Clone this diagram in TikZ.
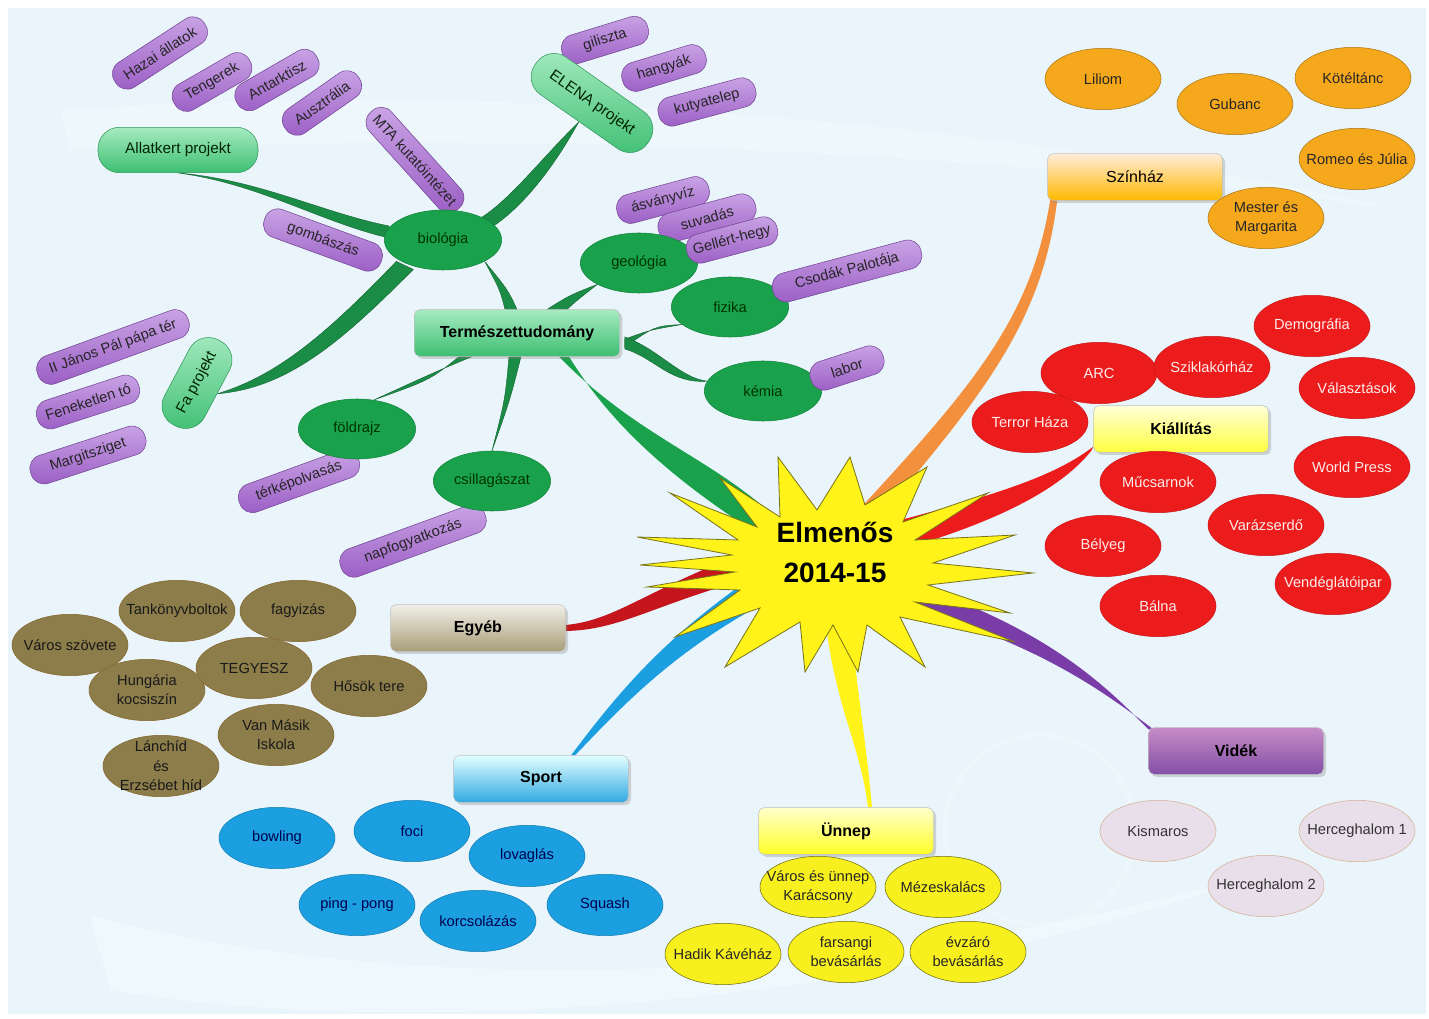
\documentclass[tikz,border=0pt]{standalone}
\usepackage{fontspec}
\setmainfont{Liberation Sans}
\usetikzlibrary{calc,shapes.geometric,shadows}

\pgfdeclarelayer{bg}
\pgfdeclarelayer{branch}
\pgfsetlayers{bg,branch,main}

\definecolor{paper}{HTML}{E9F5FB}
\definecolor{grfill}{HTML}{19A24B}
\definecolor{grdark}{HTML}{1B8C45}
\definecolor{grtop}{HTML}{A6EBC0}
\definecolor{grbot}{HTML}{3DBE72}
\definecolor{pitop}{HTML}{CBA6E6}
\definecolor{pibot}{HTML}{9A5CC4}
\definecolor{orfill}{HTML}{F6A81D}
\definecolor{orbranch}{HTML}{F2903E}
\definecolor{redfill}{HTML}{EC1C1C}
\definecolor{olfill}{HTML}{8C7D4A}
\definecolor{bluefill}{HTML}{1B9FE0}
\definecolor{yelfill}{HTML}{F8F01E}
\definecolor{lavfill}{HTML}{E9DFEA}
\definecolor{purbranch}{HTML}{7A3DA8}
\definecolor{egred}{HTML}{C4161C}

\newcommand{\zw}[1]{\makebox[0pt]{#1}}

\tikzset{every picture/.style={line width=0.75pt},
  topicbox/.style={rectangle, rounded corners=4pt, minimum width=131pt, minimum height=35pt,
    font=\fontsize{12}{14}\selectfont\bfseries, draw=black!25,
    drop shadow={opacity=0.3, shadow xshift=2pt, shadow yshift=-2pt}},
  bubble/.style={ellipse, minimum width=87pt, minimum height=46pt, inner sep=0pt,
    align=center, font=\fontsize{11}{14.5}\selectfont},
  theatre/.style={bubble, fill=orfill, draw=orfill!70!black, text=black!85},
  expo/.style={bubble, fill=redfill, draw=redfill!85!black, text=red!8},
  misc/.style={bubble, fill=olfill, draw=olfill!75!orange!80!black, text=black!90},
  sportbub/.style={bubble, fill=bluefill, draw=bluefill!80!black, text=blue!30!black},
  feast/.style={bubble, fill=yelfill, draw=yelfill!45!black, text=black!85},
  country/.style={bubble, fill=lavfill, draw=lavfill!50!brown, text=black!80},
  science/.style={bubble, minimum width=88pt, minimum height=45pt, fill=grfill, draw=grfill!80!black, text=green!20!black},
  pill/.style={rectangle, rounded corners=10pt, minimum height=22pt, inner xsep=5pt,
    top color=pitop, bottom color=pibot, draw=pibot!75!black, text=black!85,
    font=\fontsize{11}{13}\selectfont},
  greenpill/.style={rectangle, rounded corners=16pt, minimum height=34pt, inner xsep=6pt,
    top color=grtop, bottom color=grbot, draw=grbot!80!black, text=green!15!black,
    font=\fontsize{11.5}{13}\selectfont},
  natbranch/.style={fill=grfill},
  subbranch/.style={fill=grdark, draw=grdark!70!black, line width=0.3pt}
}

\begin{document}
\begin{tikzpicture}[x=0.75pt,y=0.75pt,yscale=-1,xscale=1]
\useasboundingbox (0,0) rectangle (1429,1019);

\begin{pgfonlayer}{bg}
\fill[white] (0,0) rectangle (1429,1019);
\fill[paper] (8,8) rectangle (1426,1014);
%faint swirls
\fill[white, opacity=0.3] (90,915) .. controls (400,1000) and (900,990) .. (1300,860) .. controls (900,1010) and (400,1040) .. (110,990) -- cycle ;
\fill[white, opacity=0.25] (60,110) .. controls (500,80) and (1000,120) .. (1400,210) .. controls (1000,150) and (500,130) .. (70,150) -- cycle ;
\draw[white, opacity=0.2, line width=4] (1040,830) circle (95) ;
\end{pgfonlayer}

%Star
\draw[fill=yellow!90!white, draw=olive!80!black, line width=0.6] (778,457) -- (817,510) -- (850,457) -- (865,505) -- (927,467) -- (903,522) -- (988,493) -- (915,540) -- (1015,535) -- (933,563) -- (1033,573) -- (928,585) -- (1010,613) -- (915,602) -- (1015,642) -- (900,617) -- (925,667) -- (867,625) -- (858,672) -- (833,625) -- (805,672) -- (800,622) -- (725,667) -- (760,608) -- (675,637) -- (740,590) -- (647,587) -- (735,572) -- (640,565) -- (732,555) -- (637,537) -- (738,540) -- (670,493) -- (757,527) -- (720,478) -- (780,517) -- cycle ;
\node[align=center, font=\fontsize{21}{30}\selectfont\bfseries] (hub) at (835,552) {Elmenős\\2014-15};

%Topics
\node[topicbox, top color=orange!15!white, bottom color=orange!55!yellow] (szinhaz) at (1135,177) {\mdseries Színház};
\node[topicbox, top color=yellow!15!white, bottom color=yellow!75!white] (kiallitas) at (1181,429) {Kiállítás};
\node[topicbox, top color=violet!45!white, bottom color=pibot!85!black] (videk) at (1236,751) {Vidék};
\node[topicbox, top color=yellow!20!white, bottom color=yellow!85!white] (unnep) at (846,831) {Ünnep};
\node[topicbox, top color=cyan!12!white, bottom color=bluefill!90!white] (sport) at (541,779) {Sport};
\node[topicbox, top color=olfill!12!white, bottom color=olfill!75!white] (egyeb) at (478,628) {Egyéb};
\node[topicbox, top color=grtop, bottom color=grbot, minimum width=154pt] (termtud) at (517,333) {Természettudomány};

%Színház
\node[theatre] (liliom) at (1103,79) {\zw{Liliom}};
\node[theatre] (gubanc) at (1235,104) {\zw{Gubanc}};
\node[theatre] (kotel) at (1353,78) {\zw{Kötéltánc}};
\node[theatre] (romeo) at (1357,159) {\zw{Romeo és Júlia}};
\node[theatre] (mester) at (1266,218) {\zw{Mester és}\\\zw{Margarita}};

%Kiállítás
\node[expo] (demogr) at (1312,326) {\zw{Demográfia}};
\node[expo] (valaszt) at (1357,388) {\zw{Választások}};
\node[expo] (arc) at (1099,373) {\zw{ARC}};
\node[expo] (szikla) at (1212,367) {\zw{Sziklakórház}};
\node[expo] (terror) at (1030,422) {\zw{Terror Háza}};
\node[expo] (mucsarnok) at (1158,482) {\zw{Műcsarnok}};
\node[expo] (worldpress) at (1352,467) {\zw{World Press}};
\node[expo] (varazs) at (1266,525) {\zw{Varázserdő}};
\node[expo] (belyeg) at (1103,546) {\zw{Bélyeg}};
\node[expo] (vendeg) at (1333,584) {\zw{Vendéglátóipar}};
\node[expo] (balna) at (1158,606) {\zw{Bálna}};

%Vidék
\node[country] (kismaros) at (1158,831) {\zw{Kismaros}};
\node[country] (herceg1) at (1357,831) {\zw{Herceghalom 1}};
\node[country] (herceg2) at (1266,886) {\zw{Herceghalom 2}};

%Ünnep
\node[feast] (karacsony) at (818,887) {\zw{Város és ünnep}\\\zw{Karácsony}};
\node[feast] (mezes) at (943,887) {\zw{Mézeskalács}};
\node[feast] (hadik) at (723,954) {\zw{Hadik Kávéház}};
\node[feast] (farsang) at (846,952) {\zw{farsangi}\\\zw{bevásárlás}};
\node[feast] (evzaro) at (968,952) {\zw{évzáró}\\\zw{bevásárlás}};

%Sport
\node[sportbub] (bowling) at (277,838) {\zw{bowling}};
\node[sportbub] (foci) at (412,831) {\zw{foci}};
\node[sportbub] (lovaglas) at (527,856) {\zw{lovaglás}};
\node[sportbub] (pingpong) at (357,905) {\zw{ping - pong}};
\node[sportbub] (korcsolya) at (478,921) {\zw{korcsolázás}};
\node[sportbub] (squash) at (605,905) {\zw{Squash}};

%Egyéb
\node[misc] (tankonyv) at (177,611) {\zw{Tankönyvboltok}};
\node[misc] (fagyi) at (298,611) {\zw{fagyizás}};
\node[misc] (varos) at (70,645) {\zw{Város szövete}};
\node[misc] (hungaria) at (147,690) {\zw{Hungária}\\\zw{kocsiszín}};
\node[misc] (tegyesz) at (254,668) {\zw{TEGYESZ}};
\node[misc] (hosok) at (369,686) {\zw{Hősök tere}};
\node[misc] (vanmasik) at (276,735) {\zw{Van Másik}\\\zw{Iskola}};
\node[misc, inner ysep=-4pt] (lanchid) at (161,766) {\zw{Lánchíd}\\\zw{és}\\\zw{Erzsébet híd}};

%Természettudomány: pills
\node[pill, rotate=33, minimum width=80pt] (hazai) at (160,53) {Hazai állatok};
\node[pill, rotate=30, minimum width=65pt] (tenger) at (212,82) {Tengerek};
\node[pill, rotate=30, minimum width=69pt] (antark) at (277,80) {Antarktisz};
\node[pill, rotate=35, minimum width=67pt] (ausztr) at (322,103) {Ausztrália};
\node[pill, rotate=-48, minimum width=89pt] (mta) at (415,160) {MTA kutatóintézet};
\node[pill, rotate=-20, minimum width=93pt] (gomba) at (323,240) {gombászás};
\node[pill, rotate=17, minimum width=67pt] (giliszta) at (605,40) {giliszta};
\node[pill, rotate=17, minimum width=65pt] (hangyak) at (664,68) {hangyák};
\node[greenpill, rotate=-35, minimum width=103pt] (elena) at (592,103) {ELENA projekt};
\node[pill, rotate=15, minimum width=75pt] (kutya) at (707,102) {kutyatelep};
\node[greenpill, minimum width=120pt] (allatkert) at (178,150) {Allatkert projekt};
\node[pill, rotate=20, minimum width=120pt] (janos) at (113,347) {II János Pál pápa tér};
\node[pill, rotate=18, minimum width=80pt] (fenek) at (88,402) {Feneketlen tó};
\node[pill, rotate=18, minimum width=90pt] (margit) at (88,455) {Margitsziget};
\node[greenpill, rotate=62, minimum width=72pt] (fa) at (197,383) {Fa projekt};
\node[pill, rotate=20, minimum width=95pt] (terkep) at (299,481) {térképolvasás};
\node[pill, rotate=20, minimum width=115pt] (napfogy) at (413,541) {napfogyatkozás};
\node[pill, rotate=15, minimum width=71pt] (asvany) at (663,200) {ásványvíz};
\node[pill, rotate=15, minimum width=75pt] (suvadas) at (707,218) {suvadás};

%Természettudomány: areas
\node[science] (biologia) at (443,240) {\zw{biológia}};
\node[science] (geologia) at (639,263) {\zw{geológia}};
\node[pill, rotate=15, minimum width=70pt] (gellert) at (732,240) {Gellért-hegy};
\node[science] (fizika) at (730,307) {\zw{fizika}};
\node[pill, rotate=15, minimum width=115pt] (csodak) at (847,271) {Csodák Palotája};
\node[science] (kemia) at (763,391) {\zw{kémia}};
\node[pill, rotate=18, minimum width=57pt] (labor) at (847,368) {labor};
\node[science] (foldrajz) at (357,429) {\zw{földrajz}};
\node[science] (csillag) at (492,481) {\zw{csillagászat}};

\begin{pgfonlayer}{branch}
%Branches from the centre
\fill[natbranch] ($(termtud.south)+(42,0)$) .. controls (640,440) and (720,460) .. ($(hub)+(-50,-25)$) -- ($(hub)+(-40,5)$) .. controls (700,500) and (620,440) .. ($(termtud.south)+(52,0)$) -- cycle ;
\fill[orbranch] ($(szinhaz.south west)+(3,-2)$) .. controls (1030,330) and (960,400) .. ($(hub)+(-15,0)$) -- ($(hub)+(15,0)$) .. controls (975,405) and (1042,330) .. ($(szinhaz.south west)+(10,-2)$) -- cycle ;
\fill[redfill] ($(kiallitas.south west)+(0,-6)$) .. controls (1050,480) and (980,500) .. ($(hub)+(0,-15)$) -- ($(hub)+(0,15)$) .. controls (990,530) and (1060,490) .. ($(kiallitas.south west)+(-2,-2)$) -- cycle ;
\fill[purbranch] ($(videk.north west)+(0,2)$) .. controls (1100,680) and (1030,610) .. ($(hub)+(0,10)$) -- ($(hub)+(0,35)$) .. controls (1020,630) and (1095,685) .. ($(videk.north west)+(5,2)$) -- cycle ;
\fill[yellow!90!white] ($(unnep.north)+(22,0)$) .. controls (860,740) and (830,700) .. ($(hub)+(-12,40)$) -- ($(hub)+(12,40)$) .. controls (858,700) and (866,740) .. ($(unnep.north)+(26,0)$) -- cycle ;
\fill[bluefill] ($(sport.north)+(30,0)$) .. controls (620,690) and (670,630) .. ($(hub)+(-60,10)$) -- ($(hub)+(-50,40)$) .. controls (680,645) and (628,700) .. ($(sport.north)+(34,0)$) -- cycle ;
\fill[egred] ($(egyeb.east)+(0,-3)$) .. controls (620,620) and (650,585) .. ($(hub)+(-60,-10)$) -- ($(hub)+(-60,20)$) .. controls (660,600) and (625,630) .. ($(egyeb.east)+(0,3)$) -- cycle ;

%Branches inside Természettudomány
\filldraw[subbranch] ($(termtud.north)+(-12,0)$) .. controls (500,290) .. (biologia.south east) .. controls (508,290) .. ($(termtud.north)+(0,0)$) -- cycle ;
\filldraw[subbranch] (allatkert.south) .. controls (260,180) and (320,212) .. ($(biologia.west)+(5,-14)$) -- ($(biologia.west)+(5,-2)$) .. controls (320,222) and (260,184) .. (allatkert.south) -- cycle ;
\filldraw[subbranch] (fa.south) .. controls (280,375) and (330,330) .. ($(biologia.south west)+(-5,0)$) -- ($(biologia.south west)+(12,8)$) .. controls (345,338) and (290,388) .. (fa.south) -- cycle ;
\filldraw[subbranch] (elena.south) .. controls (540,160) and (510,200) .. ($(biologia.north east)+(-5,0)$) -- ($(biologia.north east)+(8,8)$) .. controls (525,205) and (555,165) .. (elena.south) -- cycle ;
\filldraw[subbranch] ($(termtud.north)+(30,0)$) .. controls (570,295) .. (geologia.south west) .. controls (575,302) .. ($(termtud.north)+(50,0)$) -- cycle ;
\filldraw[subbranch] ($(termtud.east)+(5,6)$) .. controls (650,330) .. (fizika.200) .. controls (655,326) .. ($(termtud.east)+(5,14)$) -- cycle ;
\filldraw[subbranch] ($(termtud.east)+(5,4)$) .. controls (660,350) and (680,378) .. (kemia.170) .. controls (670,384) and (655,358) .. ($(termtud.east)+(5,16)$) -- cycle ;
\filldraw[subbranch] ($(termtud.south west)+(45,0)$) .. controls (430,380) .. (foldrajz.60) .. controls (435,372) .. ($(termtud.south west)+(58,0)$) -- cycle ;
\filldraw[subbranch] ($(termtud.south)+(-8,0)$) .. controls (505,400) .. (csillag.north) .. controls (510,400) .. ($(termtud.south)+(4,0)$) -- cycle ;
\end{pgfonlayer}

\end{tikzpicture}
\end{document}
